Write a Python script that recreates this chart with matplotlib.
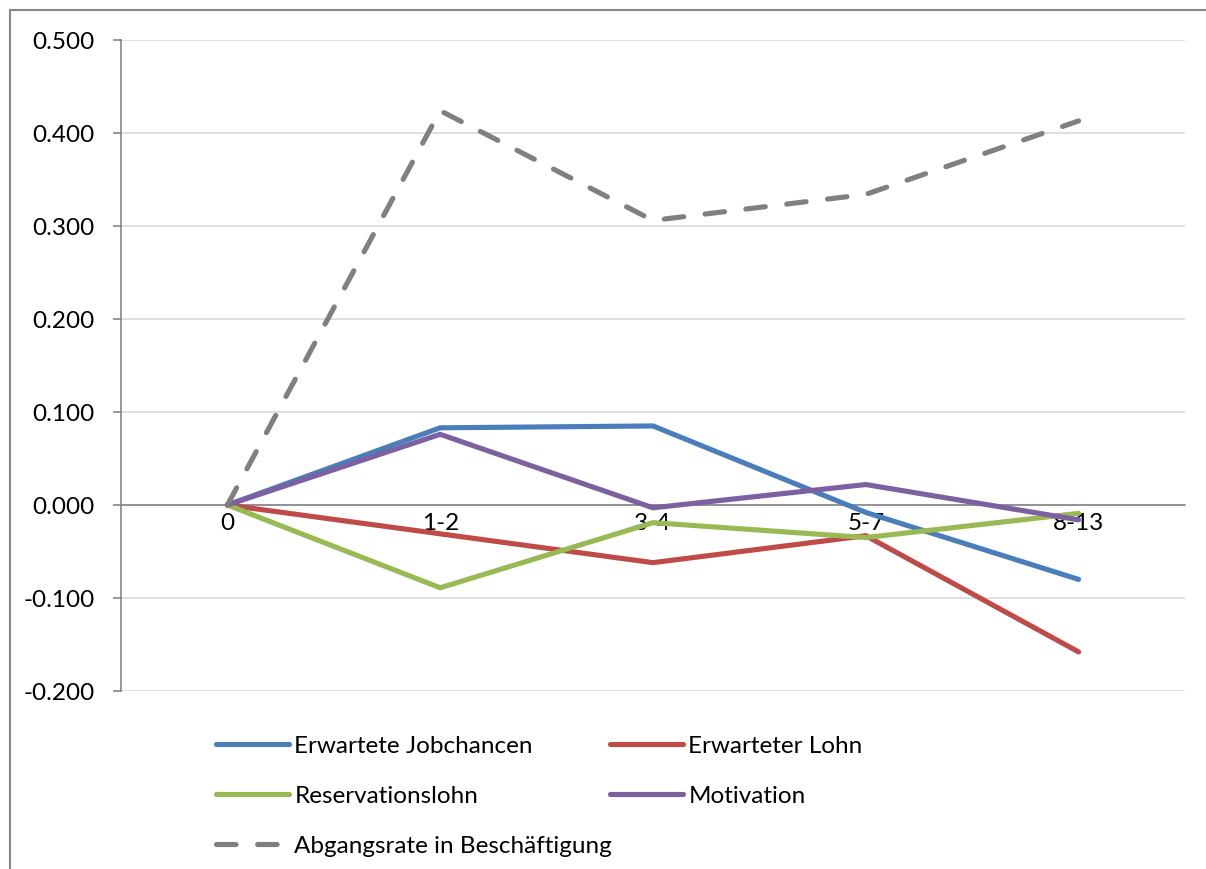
import numpy as np
import matplotlib
matplotlib.use("Agg")
import matplotlib.pyplot as plt
from matplotlib.patches import Rectangle

categories = ['0', '1-2', '3-4', '5-7', '8-13']
jobchancen = [0.0, 0.083, 0.085, -0.008, -0.080]
lohn = [0.0, -0.031, -0.062, -0.033, -0.158]
reservationslohn = [0.0, -0.089, -0.019, -0.035, -0.009]
motivation = [0.0, 0.076, -0.003, 0.022, -0.016]
abgangsrate = [0.0, 0.424, 0.306, 0.334, 0.413]
yticks = [-0.2, -0.1, 0.0, 0.1, 0.2, 0.3, 0.4, 0.5]

plt.rcParams['font.family'] = ['Lato', 'DejaVu Sans']
fs = 17.5

fig = plt.figure(figsize=(12.06, 8.70), dpi=100)
ax = fig.add_axes([121/1206, 1 - 692/870, (1185 - 121)/1206, (692 - 41)/870])

# outer chart border (runs off right and bottom edges)
fig.patches.append(Rectangle((10/1206, -0.1), 1.2, 1 - 11/870 + 0.1, transform=fig.transFigure,
                             fill=False, edgecolor='#868686', linewidth=1.5))

x = np.arange(len(categories))
lw = 3.7
h_job, = ax.plot(x, jobchancen, color='#4A7EBB', lw=lw, solid_capstyle='round', label='Erwartete Jobchancen', zorder=3)
h_lohn, = ax.plot(x, lohn, color='#BE4B48', lw=lw, solid_capstyle='round', label='Erwarteter Lohn', zorder=3)
h_res, = ax.plot(x, reservationslohn, color='#98B954', lw=lw, solid_capstyle='round', label='Reservationslohn', zorder=3)
h_mot, = ax.plot(x, motivation, color='#7D60A0', lw=lw, solid_capstyle='round', label='Motivation', zorder=3)
h_abg, = ax.plot(x, abgangsrate, color='#808080', lw=lw, dashes=(3.8, 4.2), dash_capstyle='round',
                 label='Abgangsrate in Beschäftigung', zorder=3)

ax.set_xlim(-0.5, len(categories) - 0.5)
ax.set_ylim(-0.2, 0.5)
ax.set_yticks(yticks)
ax.set_yticklabels(['%.3f' % v for v in yticks], fontsize=fs)
ax.yaxis.grid(True, color='#D9D9D9', lw=1.2)
ax.set_axisbelow(True)

for s in ['top', 'right']:
    ax.spines[s].set_visible(False)
ax.spines['left'].set_color('#868686')
ax.spines['left'].set_linewidth(1.2)
ax.spines['bottom'].set_position(('data', 0))
ax.spines['bottom'].set_color('#868686')
ax.spines['bottom'].set_linewidth(1.2)
ax.spines['bottom'].set_zorder(2)
ax.tick_params(axis='y', length=6, color='#868686', width=1.2, pad=13)
ax.set_xticks(x)
ax.set_xticklabels(categories, fontsize=fs)
ax.tick_params(axis='x', length=0, pad=5)

leg_kw = dict(frameon=False, fontsize=fs, handlelength=3.0, handletextpad=0.22,
              labelspacing=1.2, borderpad=0, borderaxespad=0)
fig.legend(handles=[h_job, h_res, h_abg], loc='upper left',
           bbox_to_anchor=(216/1206, 1 - 736/870), **leg_kw)
fig.legend(handles=[h_lohn, h_mot], loc='upper left',
           bbox_to_anchor=(610/1206, 1 - 736/870), **leg_kw)

fig.savefig('out.png', dpi=100)
